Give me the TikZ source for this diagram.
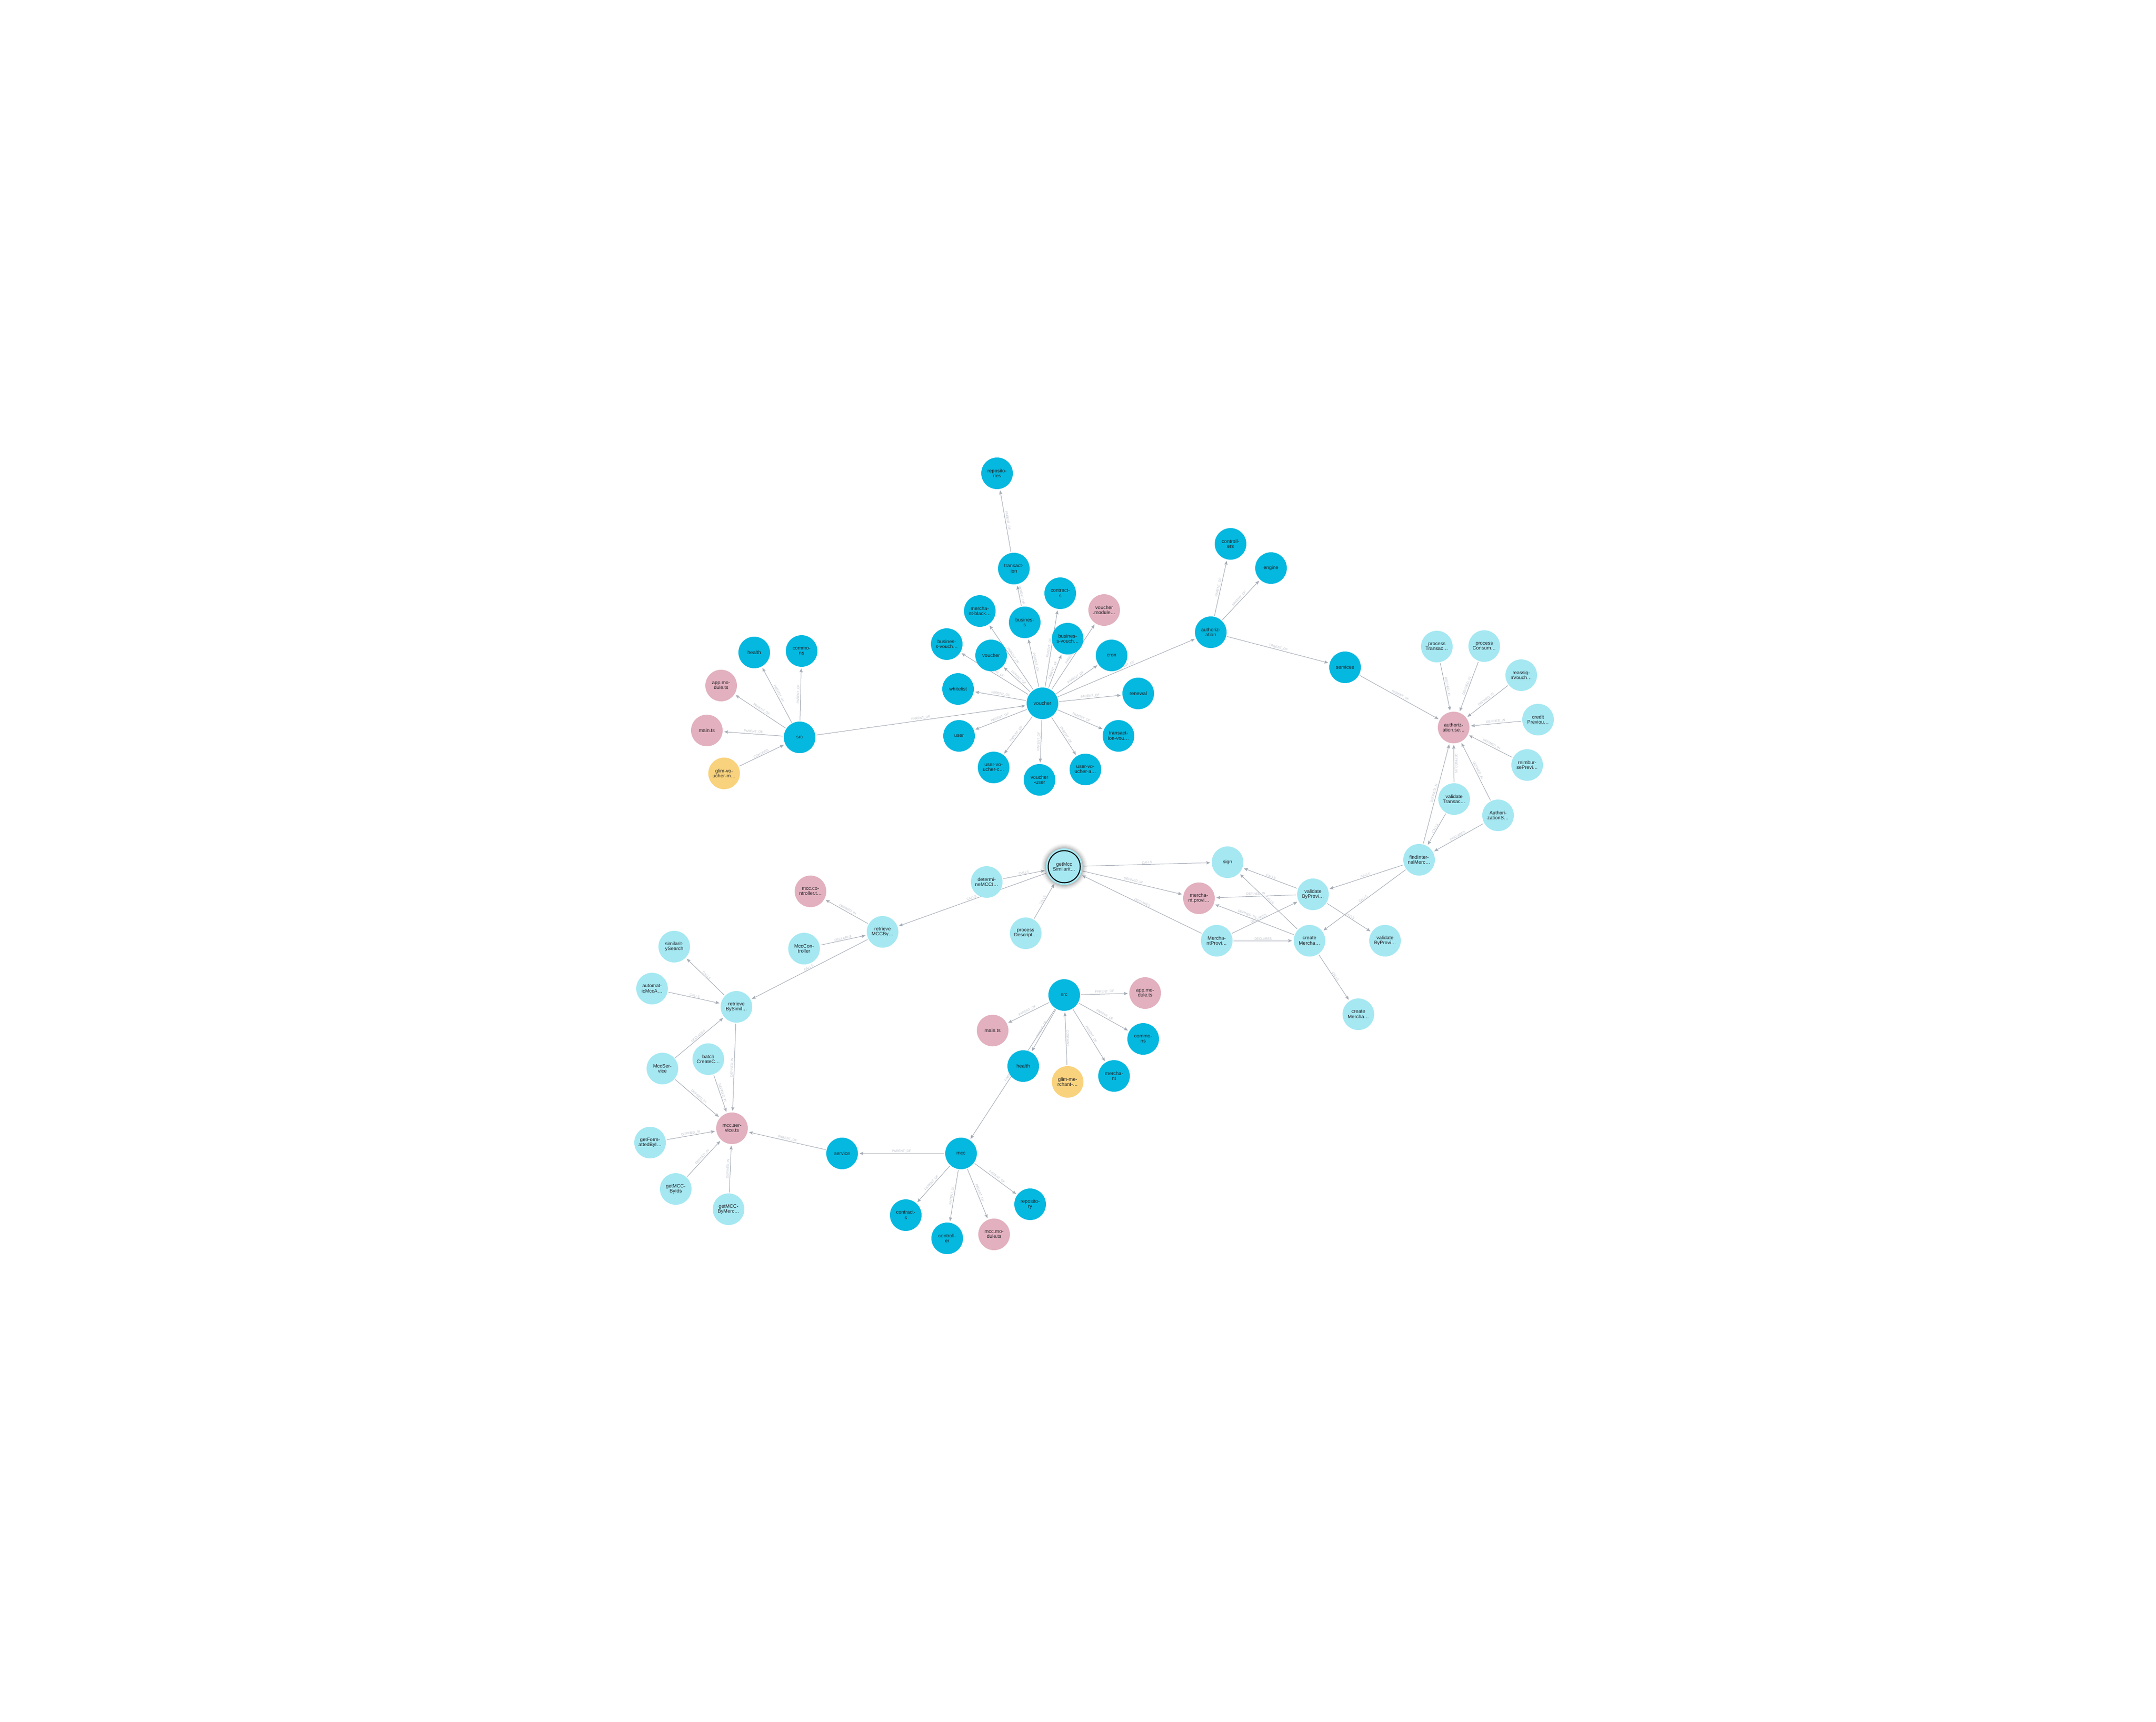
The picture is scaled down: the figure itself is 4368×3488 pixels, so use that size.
\documentclass[tikz,border=0pt]{standalone}
\usepackage{fontspec}
\setmainfont{Liberation Sans}
\usetikzlibrary{arrows.meta,backgrounds}
\definecolor{folderc}{RGB}{4,184,223}
\definecolor{funcc}{RGB}{165,232,242}
\definecolor{filec}{RGB}{226,176,190}
\definecolor{projc}{RGB}{249,210,125}
\definecolor{edgec}{RGB}{165,171,182}
\definecolor{lblc}{RGB}{190,195,204}
\definecolor{txtc}{RGB}{34,34,40}
\newcommand\edg[3]{\draw[edge] (#1) -- node[lbl]{#3} (#2);}
\newcommand\edgp[4]{\draw[edge] (#1) -- node[lbl,pos=#4]{#3} (#2);}
\newcommand\lPO{PARENT\_OF}
\newcommand\lDI{DEFINED\_IN}
\newcommand\lCA{CALLS}
\newcommand\lDE{DECLARES}
\newcommand\lCO{CONTAINS}
\begin{document}
\begin{tikzpicture}[x=1pt,y=-1pt,
  nd/.style={circle, minimum size=64pt, inner sep=0pt, align=center, text=txtc, font=\fontsize{10}{10.5}\selectfont},
  folder/.style={nd, fill=folderc},
  func/.style={nd, fill=funcc},
  file/.style={nd, fill=filec},
  proj/.style={nd, fill=projc},
  edge/.style={draw=edgec, line width=1pt, -{Stealth[length=8pt,width=6.5pt,inset=1.5pt]}, shorten >=3pt, shorten <=2pt},
  lbl/.style={sloped, above, inner sep=1pt, text=lblc, font=\fontsize{6.5}{7}\selectfont}]
\useasboundingbox (0,0) rectangle (4368,3488);
% ---------- nodes: top-left cluster
\node[folder] (health1) at (1528,1322) {health};
\node[folder] (commons1) at (1624,1319) {commo-\\ns};
\node[file] (appmod1) at (1461,1389) {app.mo-\\dule.ts};
\node[file] (main1) at (1432,1480) {main.ts};
\node[folder] (src1) at (1620,1494) {src};
\node[proj] (glimv) at (1467,1567) {glim-vo-\\ucher-m…};
% voucher cluster
\node[folder] (voucher) at (2112,1425) {voucher};
\node[folder] (whitelist) at (1941,1396) {whitelist};
\node[folder] (bvL) at (1918,1305) {busines-\\s-vouch…};
\node[folder] (vsmall) at (2008,1328) {voucher};
\node[folder] (mblack) at (1985,1238) {mercha-\\nt-black…};
\node[folder] (business) at (2076,1261) {busines-\\s};
\node[folder] (transaction) at (2054,1152) {transact-\\ion};
\node[folder] (repositories) at (2020,959) {reposito-\\ries};
\node[folder] (contracts1) at (2148,1202) {contract-\\s};
\node[folder] (bvR) at (2163,1294) {busines-\\s-vouch…};
\node[file] (vmodule) at (2237,1236) {voucher\\.module…};
\node[folder] (cron) at (2252,1328) {cron};
\node[folder] (renewal) at (2306,1405) {renewal};
\node[folder] (user) at (1943,1491) {user};
\node[folder] (uvc) at (2013,1555) {user-vo-\\ucher-c…};
\node[folder] (vuser) at (2106,1580) {voucher\\-user};
\node[folder] (uva) at (2199,1559) {user-vo-\\ucher-a…};
\node[folder] (tvou) at (2266,1491) {transact-\\ion-vou…};
% authorization cluster
\node[folder] (authz) at (2453,1281) {authoriz-\\ation};
\node[folder] (controllers) at (2493,1102) {controll-\\ers};
\node[folder] (engine) at (2575,1151) {engine};
\node[folder] (services) at (2725,1352) {services};
\node[file] (authse) at (2945,1474) {authoriz-\\ation.se…};
\node[func] (procT) at (2911,1310) {process\\Transac…};
\node[func] (procC) at (3007,1309) {process\\Consum…};
\node[func] (reassign) at (3082,1368) {reassig-\\nVouch…};
\node[func] (credit) at (3116,1458) {credit\\Previou…};
\node[func] (reimb) at (3094,1550) {reimbur-\\sePrevi…};
\node[func] (valT) at (2946,1619) {validate\\Transac…};
\node[func] (authS) at (3035,1652) {Authori-\\zationS…};
\node[func] (findInt) at (2875,1742) {findInter-\\nalMerc…};
\node[func] (vbp1) at (2660,1812) {validate\\ByProvi…};
\node[func] (vbp2) at (2806,1906) {validate\\ByProvi…};
\node[func] (cm1) at (2653,1906) {create\\Mercha…};
\node[func] (cm2) at (2752,2055) {create\\Mercha…};
\node[func] (mprovC) at (2465,1906) {Mercha-\\ntProvi…};
\node[file] (mprovF) at (2429,1820) {mercha-\\nt.provi…};
\node[func] (sign) at (2487,1747) {sign};
\node[func, minimum size=74pt] (getmcc) at (2156,1756) {getMcc\\Similarit…};
\node[func] (determine) at (1999,1787) {determi-\\neMCCI…};
\node[func] (procD) at (2078,1891) {process\\Descript…};
\node[func] (retrMCC) at (1788,1888) {retrieve\\MCCBy…};
\node[file] (mccctrl) at (1642,1806) {mcc.co-\\ntroller.t…};
\node[func] (mccCtrlC) at (1629,1922) {MccCon-\\troller};
\node[func] (simS) at (1366,1918) {similarit-\\ySearch};
\node[func] (autoM) at (1321,2003) {automat-\\icMccA…};
\node[func] (retrSim) at (1492,2040) {retrieve\\BySimil…};
\node[func] (mccSvcC) at (1342,2165) {MccSer-\\vice};
\node[func] (batch) at (1435,2146) {batch\\CreateC…};
\node[file] (mccsvc) at (1483,2286) {mcc.ser-\\vice.ts};
\node[func] (getFmt) at (1317,2315) {getForm-\\attedByI…};
\node[func] (getIds) at (1369,2409) {getMCC-\\ByIds};
\node[func] (getMerc) at (1476,2450) {getMCC-\\ByMerc…};
% bottom cluster
\node[folder] (service) at (1706,2337) {service};
\node[folder] (mcc) at (1947,2337) {mcc};
\node[folder] (contracts2) at (1835,2462) {contract-\\s};
\node[folder] (controller) at (1919,2509) {controll-\\er};
\node[file] (mccmod) at (2014,2501) {mcc.mo-\\dule.ts};
\node[folder] (repository) at (2087,2440) {reposito-\\ry};
\node[folder] (src2) at (2156,2016) {src};
\node[file] (main2) at (2011,2088) {main.ts};
\node[folder] (health2) at (2073,2160) {health};
\node[proj] (glimm) at (2163,2192) {glim-me-\\rchant-…};
\node[folder] (commons2) at (2316,2105) {commo-\\ns};
\node[folder] (merchant) at (2257,2180) {mercha-\\nt};
\node[file] (appmod2) at (2320,2012) {app.mo-\\dule.ts};
\draw[black, line width=2pt] (getmcc.center) circle (32.5pt);
% ---------- edges
\begin{scope}[on background layer]
\fill[white] (0,0) rectangle (4368,3488);
\edg{src1}{health1}{\lPO}
\edg{src1}{commons1}{\lPO}
\edg{src1}{appmod1}{\lPO}
\edg{src1}{main1}{\lPO}
\edg{glimv}{src1}{\lCO}
\edg{src1}{voucher}{\lPO}
\edg{voucher}{whitelist}{\lPO}
\edg{voucher}{bvL}{\lPO}
\edg{voucher}{vsmall}{\lPO}
\edg{voucher}{mblack}{\lPO}
\edg{voucher}{business}{\lPO}
\edg{business}{transaction}{\lPO}
\edg{transaction}{repositories}{\lPO}
\edg{voucher}{contracts1}{\lPO}
\edg{voucher}{bvR}{\lPO}
\edg{voucher}{vmodule}{\lPO}
\edg{voucher}{cron}{\lPO}
\edg{voucher}{renewal}{\lPO}
\edg{voucher}{user}{\lPO}
\edg{voucher}{uvc}{\lPO}
\edg{voucher}{vuser}{\lPO}
\edg{voucher}{uva}{\lPO}
\edg{voucher}{tvou}{\lPO}
\edg{voucher}{authz}{\lPO}
\edg{authz}{controllers}{\lPO}
\edg{authz}{engine}{\lPO}
\edg{authz}{services}{\lPO}
\edg{services}{authse}{\lPO}
\edg{procT}{authse}{\lDI}
\edg{procC}{authse}{\lDI}
\edg{reassign}{authse}{\lDI}
\edg{credit}{authse}{\lDI}
\edg{reimb}{authse}{\lDI}
\edg{valT}{authse}{\lDI}
\edg{authS}{authse}{\lDI}
\edg{findInt}{authse}{\lDI}
\edg{authS}{findInt}{\lDE}
\edg{valT}{findInt}{\lCA}
\edg{findInt}{vbp1}{\lCA}
\edg{findInt}{cm1}{\lCA}
\edg{vbp1}{vbp2}{\lCA}
\edg{cm1}{cm2}{\lCA}
\edg{vbp1}{sign}{\lCA}
\edg{vbp1}{mprovF}{\lDI}
\edg{cm1}{sign}{\lCA}
\edgp{cm1}{mprovF}{\lDI}{0.6}
\edgp{mprovC}{vbp1}{\lDE}{0.42}
\edg{mprovC}{cm1}{\lDE}
\edg{mprovC}{getmcc}{\lDE}
\edg{getmcc}{sign}{\lCA}
\edg{getmcc}{mprovF}{\lDI}
\edg{determine}{getmcc}{\lCA}
\edg{procD}{getmcc}{\lCA}
\edg{getmcc}{retrMCC}{\lCA}
\edg{retrMCC}{mccctrl}{\lDI}
\edg{mccCtrlC}{retrMCC}{\lDE}
\edg{retrMCC}{retrSim}{\lCA}
\edg{retrSim}{simS}{\lCA}
\edg{autoM}{retrSim}{\lCA}
\edg{mccSvcC}{retrSim}{\lDE}
\edg{retrSim}{mccsvc}{\lDI}
\edg{mccSvcC}{mccsvc}{\lDI}
\edg{batch}{mccsvc}{\lDI}
\edg{getFmt}{mccsvc}{\lDI}
\edg{getIds}{mccsvc}{\lDI}
\edg{getMerc}{mccsvc}{\lDI}
\edg{service}{mccsvc}{\lPO}
\edg{mcc}{service}{\lPO}
\edg{mcc}{contracts2}{\lPO}
\edg{mcc}{controller}{\lPO}
\edg{mcc}{mccmod}{\lPO}
\edg{mcc}{repository}{\lPO}
\edg{src2}{mcc}{\lPO}
\edg{src2}{health2}{\lPO}
\edg{src2}{main2}{\lPO}
\edg{glimm}{src2}{\lCO}
\edg{src2}{merchant}{\lPO}
\edg{src2}{commons2}{\lPO}
\edg{src2}{appmod2}{\lPO}
\foreach \r/\o in {47/0.03,45/0.04,43/0.05,41/0.07,39/0.09}
  \fill[black,opacity=\o] (getmcc.center) circle (\r pt);
\end{scope}
\end{tikzpicture}
\end{document}
